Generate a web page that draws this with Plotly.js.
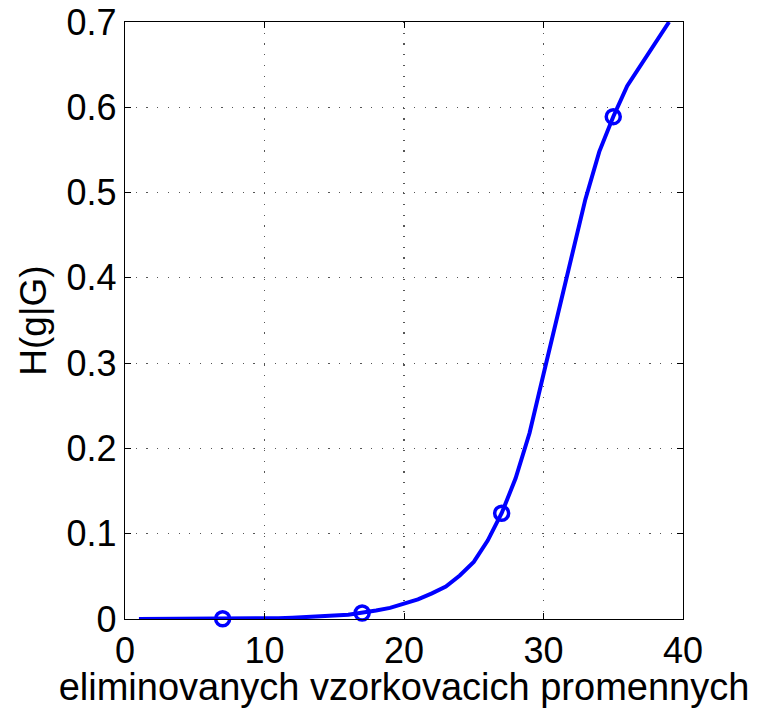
<!DOCTYPE html>
<html>
<head>
<meta charset="utf-8">
<script src="https://cdn.plot.ly/plotly-3.0.1.min.js"></script>
<style>html,body{margin:0;padding:0;background:#fff;}#chart{width:757px;height:708px;}</style>
</head>
<body>
<div id="chart"></div>
<script>
// Curve: H(g|G) vs. number of eliminated sampling variables
var curveX = [1,2,3,4,5,6,7,8,9,10,11,12,13,14,15,16,17,18,19,20,21,22,23,24,25,26,27,28,29,30,31,32,33,34,35,36,37,38,39];
var curveY = [0,0,0,0.0001,0.0001,0.0002,0.0003,0.0004,0.0005,0.0007,0.001,0.0015,0.002,0.003,0.004,0.005,0.007,0.010,0.013,0.018,0.023,0.030,0.038,0.051,0.067,0.092,0.124,0.165,0.218,0.287,0.354,0.422,0.492,0.548,0.589,0.625,0.650,0.675,0.700];
// Highlighted points
var markX = [7,17,27,35];
var markY = [0.0003,0.007,0.124,0.589];
// Ticks
var xTicks = [0,10,20,30,40];
var xTickText = ['0','10','20','30','40'];
var yTicks = [0,0.1,0.2,0.3,0.4,0.5,0.6,0.7];
var yTickText = ['0','0.1','0.2','0.3','0.4','0.5','0.6','0.7'];
var xTitle = 'eliminovanych vzorkovacich promennych';
var yTitle = 'H(g|G)';

var FONT = 'Liberation Sans, Arial, Helvetica, sans-serif';
var traces = [
  {x: curveX, y: curveY, mode: 'lines', type: 'scatter',
   line: {color: '#0000ff', width: 4}, hoverinfo: 'skip', showlegend: false},
  {x: markX, y: markY, mode: 'markers', type: 'scatter', cliponaxis: false,
   marker: {symbol: 'circle-open', size: 14, color: '#0000ff', line: {color: '#0000ff', width: 3.5}},
   showlegend: false}
];
var axisCommon = {
  showline: true, mirror: 'ticks', linecolor: '#000', linewidth: 1.2,
  ticks: 'inside', ticklen: 6, tickwidth: 1, tickcolor: '#000',
  showgrid: true, gridcolor: '#555', griddash: '1.2px,9.5px', gridwidth: 1.2,
  zeroline: false, tickfont: {family: FONT, size: 36, color: '#000'},
  fixedrange: true
};
var layout = {
  width: 757, height: 708,
  margin: {l: 125, r: 74, t: 22, b: 89},
  paper_bgcolor: '#fff', plot_bgcolor: '#fff',
  font: {family: FONT, size: 36, color: '#000'},
  xaxis: Object.assign({}, axisCommon, {
    range: [0, 40], tickmode: 'array', tickvals: xTicks, ticktext: xTickText,
    title: {text: xTitle, font: {family: FONT, size: 38, color: '#000'}, standoff: 0}
  }),
  yaxis: Object.assign({}, axisCommon, {
    range: [0, 0.7], tickmode: 'array', tickvals: yTicks, ticktext: yTickText,
    title: {text: yTitle, font: {family: FONT, size: 37, color: '#000'}, standoff: 8}
  }),
  showlegend: false
};
Plotly.newPlot('chart', traces, layout, {displayModeBar: false, staticPlot: true});
</script>
</body>
</html>
